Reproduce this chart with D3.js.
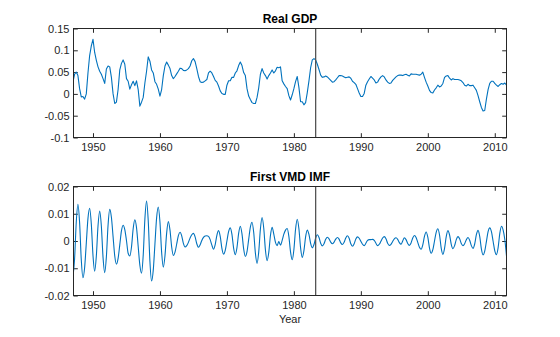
<!DOCTYPE html>
<html>
<head>
<meta charset="utf-8">
<script src="https://cdn.jsdelivr.net/npm/d3@7"></script>
<style>
  body { margin: 0; background: #fff; }
  svg { display: block; font-family: "Liberation Sans", Arial, Helvetica, sans-serif; }
</style>
</head>
<body>
<svg width="560" height="337"></svg>
<script>
// quarterly series, 1947Q1 .. 2011Q4
var firstYear = 1947;
var quartersPerYear = 4;
var breakYear = 1983.25;

var realGdp = [
  0.027, 0.045, 0.050, 0.042,   // 1947
  0.012, -0.007, -0.006, -0.012,
  0.000, 0.048, 0.088, 0.110,
  0.125, 0.095, 0.077, 0.062,   // 1950
  0.052, 0.045, 0.035, 0.024,
  0.057, 0.064, 0.062, 0.038,
  0.000, -0.022, -0.019, 0.010,
  0.055, 0.070, 0.078, 0.068,
  0.035, 0.029, 0.011, 0.021,
  0.029, 0.019, 0.030, 0.010,
  -0.028, -0.019, -0.008, 0.025,
  0.052, 0.085, 0.075, 0.055,
  0.048, 0.028, 0.022, 0.011,
  -0.005, 0.010, 0.042, 0.064,  // 1960
  0.073, 0.066, 0.058, 0.042,
  0.035, 0.040, 0.046, 0.052,
  0.059, 0.058, 0.054, 0.053,
  0.055, 0.058, 0.064, 0.076,
  0.081, 0.074, 0.058, 0.040,
  0.028, 0.026, 0.027, 0.030,
  0.033, 0.048, 0.052, 0.048,
  0.040, 0.031, 0.027, 0.018,
  0.007, 0.001, -0.001, -0.001,
  0.020, 0.030, 0.030, 0.038,   // 1970
  0.038, 0.048, 0.053, 0.065,
  0.073, 0.065, 0.049, 0.042,
  0.012, -0.005, -0.013, -0.020,
  -0.022, -0.022, -0.008, 0.014,
  0.045, 0.058, 0.048, 0.042,
  0.034, 0.042, 0.048, 0.055,
  0.048, 0.053, 0.061, 0.060,
  0.062, 0.030, 0.023, 0.017,
  0.012, -0.004, -0.014, -0.002,
  0.012, 0.028, 0.040, 0.015,   // 1980
  -0.018, -0.018, -0.025, -0.020,
  0.003, 0.030, 0.060, 0.078,
  0.081, 0.078, 0.068, 0.056,
  0.043, 0.038, 0.039, 0.041,
  0.039, 0.035, 0.031, 0.027,
  0.028, 0.032, 0.037, 0.042,
  0.042, 0.041, 0.039, 0.037,
  0.038, 0.039, 0.036, 0.029,
  0.026, 0.022, 0.012, 0.002,
  -0.006, -0.006, 0.001, 0.020, // 1990
  0.028, 0.034, 0.040, 0.036,
  0.032, 0.025, 0.027, 0.034,
  0.039, 0.042, 0.039, 0.032,
  0.027, 0.024, 0.025, 0.031,
  0.035, 0.039, 0.042, 0.043,
  0.043, 0.042, 0.044, 0.045,
  0.043, 0.041, 0.046, 0.045,
  0.045, 0.045, 0.044, 0.043,
  0.045, 0.050, 0.038, 0.027,
  0.018, 0.008, 0.003, 0.002,   // 2000
  0.009, 0.014, 0.020, 0.016,
  0.018, 0.024, 0.038, 0.041,
  0.042, 0.036, 0.032, 0.035,
  0.033, 0.033, 0.033, 0.032,
  0.030, 0.026, 0.020, 0.018,
  0.022, 0.019, 0.019, 0.020,
  0.014, 0.008, -0.004, -0.018,
  -0.031, -0.039, -0.038, -0.012,
  0.010, 0.024, 0.029, 0.029,
  0.024, 0.020, 0.017, 0.021,   // 2010
  0.024, 0.022, 0.025, 0.020
];

var firstImf = [
  -0.0133, -0.0066, 0.0068, 0.0135,  // 1947
  0.0068, -0.0068, -0.0135, -0.0098,
  -0.0008, 0.0083, 0.0120, 0.0062,
  -0.0053, -0.0111, -0.0055, 0.0055, // 1950
  0.0110, 0.0054, -0.0060, -0.0116,
  -0.0058, 0.0058, 0.0116, 0.0087,
  0.0016, -0.0055, -0.0085, -0.0064,
  -0.0014, 0.0037, 0.0058, 0.0042,
  0.0002, -0.0045, -0.0055, -0.0022,
  0.0045, 0.0078, 0.0049, -0.0020,
  -0.0089, -0.0118, -0.0052, 0.0081,
  0.0147, 0.0074, -0.0074, -0.0147,
  -0.0107, -0.0011, 0.0085, 0.0125,
  0.0070, -0.0041, -0.0096, -0.0054, // 1960
  0.0029, 0.0071, 0.0040, -0.0022,
  -0.0053, -0.0041, -0.0011, 0.0020,
  0.0032, 0.0019, -0.0009, -0.0022,
  -0.0017, -0.0005, 0.0011, 0.0023,
  0.0028, 0.0015, -0.0010, -0.0023,
  -0.0014, 0.0002, 0.0013, 0.0018,
  0.0019, 0.0017, 0.0005, -0.0015,
  -0.0030, -0.0013, 0.0021, 0.0038,
  0.0017, -0.0027, -0.0048, -0.0034,
  0.0000, 0.0034, 0.0048, 0.0024,    // 1970
  -0.0026, -0.0050, -0.0024, 0.0028,
  0.0054, 0.0026, -0.0029, -0.0057,
  -0.0039, 0.0006, 0.0051, 0.0069,
  0.0031, -0.0044, -0.0082, -0.0040,
  0.0044, 0.0086, 0.0047, -0.0033,
  -0.0072, -0.0042, 0.0020, 0.0050,
  0.0025, -0.0005, -0.0017, -0.0002,
  -0.0015, 0.0002, 0.0025, 0.0040,
  0.0046, 0.0017, -0.0040, -0.0069,
  -0.0032, 0.0043, 0.0080, 0.0045,   // 1980
  -0.0025, -0.0060, -0.0035, 0.0015,
  0.0040, 0.0024, -0.0009, -0.0025,
  -0.0013, 0.0011, 0.0023, 0.0013,
  -0.0008, -0.0018, -0.0010, 0.0006,
  0.0014, 0.0008, -0.0004, -0.0010,
  -0.0004, 0.0007, 0.0013, 0.0007,
  -0.0007, -0.0013, -0.0005, 0.0011,
  0.0019, 0.0010, -0.0010, -0.0019,
  -0.0010, 0.0007, 0.0015, 0.0010,
  -0.0001, -0.0012, -0.0017, -0.0008, // 1990
  0.0002, 0.0005, 0.0005, 0.0006,
  0.0002, -0.0008, -0.0017, -0.0012,
  -0.0001, 0.0011, 0.0016, 0.0008,
  -0.0008, -0.0016, -0.0012, -0.0002,
  0.0008, 0.0012, 0.0006, -0.0006,
  -0.0012, 0.0000, 0.0012, 0.0005,
  -0.0009, -0.0016, -0.0007, 0.0011,
  0.0020, 0.0013, -0.0005, -0.0023,
  -0.0030, -0.0014, 0.0017, 0.0033,
  0.0014, -0.0026, -0.0045, -0.0032,  // 2000
  0.0000, 0.0032, 0.0045, 0.0022,
  -0.0026, -0.0049, -0.0027, 0.0016,
  0.0038, 0.0022, -0.0012, -0.0028,
  -0.0017, 0.0005, 0.0016, 0.0008,
  -0.0009, -0.0017, -0.0010, 0.0005,
  0.0013, 0.0003, -0.0017, -0.0027,
  -0.0011, 0.0023, 0.0039, 0.0017,
  -0.0029, -0.0051, -0.0037, -0.0002,
  0.0034, 0.0048, 0.0034, -0.0001,
  -0.0036, -0.0050, -0.0024, 0.0028,  // 2010
  0.0054, 0.0040, 0.0005, -0.0055
];

var yearTicks = [1950, 1960, 1970, 1980, 1990, 2000, 2010];
var gdpTicks = [0.15, 0.1, 0.05, 0, -0.05, -0.1];
var gdpTickLabels = ["0.15", "0.1", "0.05", "0", "-0.05", "-0.1"];
var imfTicks = [0.02, 0.01, 0, -0.01, -0.02];
var imfTickLabels = ["0.02", "0.01", "0", "-0.01", "-0.02"];

var svg = d3.select("svg");
var axisColor = "#262626";
var lineColor = "#0072bd";
var tickLen = 4.3;

var left = 73.5, right = 506.5;

var x = d3.scaleLinear()
    .domain([firstYear, firstYear + (realGdp.length - 1) / quartersPerYear])
    .range([72.9, right]);

function drawPanel(p) {
    var y = d3.scaleLinear().domain(p.yDomain).range([p.bottom, p.top]);
    var g = svg.append("g");

    var labelFor = function (v) { return p.labels[p.ticks.indexOf(v)]; };

    // bottom + left axes carry labels, top + right only ticks
    var xb = g.append("g").attr("transform", "translate(0," + p.bottom + ")")
        .call(d3.axisBottom(x).tickValues(yearTicks).tickFormat(d3.format("d"))
            .tickSizeInner(-tickLen).tickSizeOuter(0).tickPadding(5.2));
    var xt = g.append("g").attr("transform", "translate(0," + p.top + ")")
        .call(d3.axisTop(x).tickValues(yearTicks).tickFormat("")
            .tickSizeInner(-tickLen).tickSizeOuter(0));
    var yl = g.append("g").attr("transform", "translate(" + left + ",0)")
        .call(d3.axisLeft(y).tickValues(p.ticks).tickFormat(labelFor)
            .tickSizeInner(-tickLen).tickSizeOuter(0).tickPadding(4));
    var yr = g.append("g").attr("transform", "translate(" + right + ",0)")
        .call(d3.axisRight(y).tickValues(p.ticks).tickFormat("")
            .tickSizeInner(-tickLen).tickSizeOuter(0));

    [xb, xt, yl, yr].forEach(function (a) {
        a.select(".domain").remove();
        a.selectAll("line").attr("stroke", axisColor);
        a.selectAll("text").attr("fill", axisColor)
            .style("font-size", "11px")
            .style("font-family", "'Liberation Sans', Arial, sans-serif");
    });

    // data line, clipped to the plot box
    var clipId = "clip" + p.id;
    svg.append("clipPath").attr("id", clipId).append("rect")
        .attr("x", left).attr("y", p.top)
        .attr("width", right - left).attr("height", p.bottom - p.top);

    var line = d3.line()
        .x(function (d, i) { return x(firstYear + i / quartersPerYear); })
        .y(function (d) { return y(d); })
        .curve(p.curve);

    g.append("path")
        .datum(p.values)
        .attr("clip-path", "url(#" + clipId + ")")
        .attr("fill", "none")
        .attr("stroke", lineColor)
        .attr("stroke-width", 1.1)
        .attr("stroke-linejoin", "round")
        .attr("d", line);

    // break marker
    g.append("line")
        .attr("x1", x(breakYear)).attr("x2", x(breakYear))
        .attr("y1", p.top).attr("y2", p.bottom)
        .attr("stroke", "#555")
        .attr("stroke-width", 1.3);

    // box
    g.append("rect")
        .attr("x", left).attr("y", p.top)
        .attr("width", right - left).attr("height", p.bottom - p.top)
        .attr("fill", "none")
        .attr("stroke", axisColor)
        .attr("stroke-width", 1);

    g.append("text")
        .attr("x", (left + right) / 2)
        .attr("y", p.top - 5.8)
        .attr("text-anchor", "middle")
        .style("font-size", "12px")
        .style("font-weight", "bold")
        .attr("fill", "#000")
        .text(p.title);

    if (p.xLabel) {
        g.append("text")
            .attr("x", (left + right) / 2)
            .attr("y", p.bottom + 27)
            .attr("text-anchor", "middle")
            .style("font-size", "11px")
            .attr("fill", axisColor)
            .text(p.xLabel);
    }
}

drawPanel({
    id: 1, top: 28.5, bottom: 137.5,
    values: realGdp, yDomain: [-0.1, 0.15],
    ticks: gdpTicks, labels: gdpTickLabels,
    title: "Real GDP", curve: d3.curveLinear
});

drawPanel({
    id: 2, top: 186.5, bottom: 295.5,
    values: firstImf, yDomain: [-0.02, 0.02],
    ticks: imfTicks, labels: imfTickLabels,
    title: "First VMD IMF", xLabel: "Year", curve: d3.curveMonotoneX
});
</script>
</body>
</html>
